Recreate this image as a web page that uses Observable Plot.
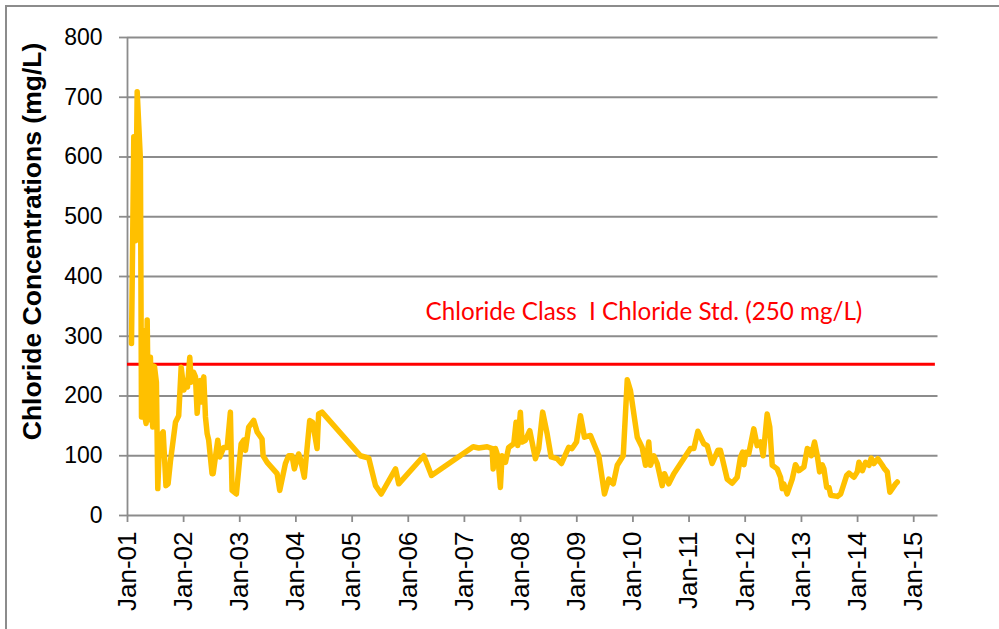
<!DOCTYPE html>
<html>
<head>
<meta charset="utf-8">
<script src="https://cdn.jsdelivr.net/npm/d3@7"></script>
<script src="https://cdn.jsdelivr.net/npm/@observablehq/plot@0.6"></script>
<style>
  body { margin: 0; background: #fff; }
  #wrap { position: relative; width: 999px; height: 629px; overflow: hidden; background: #fff; }
  #frame { position: absolute; left: 5px; top: 5px; width: 1100px; height: 700px;
           border-top: 2px solid #8c8c8c; border-left: 2px solid #8c8c8c; pointer-events: none; }
  svg text { white-space: pre; }
</style>
</head>
<body>
<div id="wrap"><div id="frame"></div></div>
<script>
const sampleDates = [
  "2001-01-27","2001-02-11","2001-02-22","2001-03-05","2001-03-26","2001-04-02","2001-04-08","2001-04-18",
  "2001-05-02","2001-05-09","2001-05-17","2001-05-30","2001-06-09","2001-06-14","2001-06-25","2001-07-08",
  "2001-07-17","2001-07-28","2001-08-07","2001-08-21","2001-09-08","2001-09-22","2001-10-07","2001-11-09",
  "2001-11-30","2001-12-16",
  "2002-01-03","2002-01-13","2002-01-26","2002-02-10","2002-02-19","2002-03-06","2002-03-19","2002-03-30",
  "2002-04-11","2002-04-20","2002-04-30","2002-05-12","2002-05-23","2002-06-03","2002-06-13","2002-07-05",
  "2002-07-12","2002-08-11","2002-08-24","2002-09-19","2002-10-11","2002-11-01","2002-11-12","2002-12-10",
  "2003-01-10","2003-01-27","2003-02-07","2003-02-28","2003-04-02","2003-04-24","2003-05-26","2003-06-02",
  "2003-06-28","2003-09-01","2003-09-18","2003-10-25","2003-11-15","2003-12-07","2003-12-22",
  "2004-01-19","2004-01-30","2004-02-25","2004-03-31","2004-04-19","2004-05-18","2004-05-28","2004-06-19",
  "2005-02-24","2005-04-19","2005-06-02","2005-07-09","2005-10-10","2005-10-31",
  "2006-04-12","2006-06-01",
  "2007-02-27","2007-04-04","2007-05-29","2007-06-30","2007-07-07","2007-07-22","2007-08-06","2007-08-23",
  "2007-09-03","2007-09-25","2007-10-16","2007-11-18","2007-12-03","2007-12-14","2007-12-31",
  "2008-01-11","2008-02-02","2008-03-01","2008-04-07","2008-04-28","2008-05-24","2008-06-22","2008-07-18",
  "2008-08-26","2008-09-23","2008-11-09","2008-12-01","2008-12-30",
  "2009-01-25","2009-02-20","2009-03-31","2009-05-24","2009-06-30","2009-07-28","2009-08-26","2009-09-21",
  "2009-10-30","2009-11-25","2009-12-16",
  "2010-01-29","2010-03-02","2010-03-24","2010-04-14","2010-04-25","2010-05-17","2010-06-08","2010-07-10",
  "2010-07-25","2010-08-22","2010-09-24",
  "2011-01-10","2011-02-01","2011-02-27","2011-04-07","2011-04-29","2011-05-31","2011-07-07","2011-07-24",
  "2011-09-06","2011-10-08","2011-11-10","2011-12-01","2011-12-15","2011-12-24",
  "2012-01-06","2012-01-24","2012-02-26","2012-03-19","2012-04-10","2012-04-27","2012-05-23","2012-06-09",
  "2012-06-25","2012-07-27","2012-08-18","2012-08-29","2012-09-08","2012-09-30","2012-11-02","2012-11-23",
  "2012-12-15",
  "2013-01-17","2013-02-08","2013-02-25","2013-03-06","2013-03-27","2013-04-14","2013-04-29","2013-05-16",
  "2013-05-27","2013-06-14","2013-06-29","2013-07-10","2013-08-22","2013-09-13","2013-10-22","2013-11-06",
  "2013-12-08","2013-12-30",
  "2014-01-10","2014-02-01","2014-02-22","2014-03-16","2014-03-31","2014-04-17","2014-05-13","2014-06-11",
  "2014-06-26","2014-07-13","2014-07-30","2014-09-05","2014-09-16"
];
const chlorideMgL = [
  288,634,460,709,595,165,310,175,
  154,327,160,265,170,148,250,223,
  45,120,135,140,50,53,90,156,
  167,248,
  210,226,215,265,223,240,232,171,
  215,226,190,232,165,137,126,70,
  70,126,98,114,114,173,42,36,
  120,126,109,148,159,140,128,100,
  89,70,42,87,100,100,78,
  103,95,64,159,156,112,170,173,
  100,96,50,36,78,53,
  100,67,
  115,113,115,112,78,112,100,47,
  100,89,114,120,156,117,173,
  123,126,142,95,112,173,137,98,
  95,87,114,112,123,
  167,131,134,100,36,61,53,84,
  100,227,209,
  131,114,84,123,84,100,87,50,
  70,53,70,
  112,112,141,120,117,87,109,109,
  61,54,64,97,106,85,
  106,103,145,117,123,100,170,148,
  84,78,64,45,53,36,61,85,
  75,
  81,112,109,100,123,100,73,85,
  78,47,47,34,32,36,67,71,
  64,73,
  89,75,89,84,96,87,95,84,
  78,73,39,53,56
];
const yTicks = [0, 100, 200, 300, 400, 500, 600, 700, 800];
const xTickDates = ["2001-01-01","2002-01-01","2003-01-01","2004-01-01","2005-01-01","2006-01-01","2007-01-01",
  "2008-01-01","2009-01-01","2010-01-01","2011-01-01","2012-01-01","2013-01-01","2014-01-01","2015-01-01"];
const xTickLabels = ["Jan-01","Jan-02","Jan-03","Jan-04","Jan-05","Jan-06","Jan-07",
  "Jan-08","Jan-09","Jan-10","Jan-11","Jan-12","Jan-13","Jan-14","Jan-15"];
const xDomain = ["2001-01-01", "2015-06-08"];
const standardValue = 253;
const standardSpan = ["2001-01-01", "2015-05-22"];
const standardLabel = "Chloride Class  I Chloride Std. (250 mg/L)";
const standardLabelAt = { date: "2006-04-23", value: 328 };
const yTitle = "Chloride Concentrations (mg/L)";

const rows = sampleDates.map((d, i) => ({ date: new Date(d), value: chlorideMgL[i] }));
const tickDates = xTickDates.map(d => new Date(d));
const labelMap = new Map(tickDates.map((d, i) => [+d, xTickLabels[i]]));

// fit red label width to the reference
const ctx = document.createElement("canvas").getContext("2d");
ctx.font = "24px Lato";
const w24 = ctx.measureText(standardLabel).width;
const redSize = 24 * 437 / w24;

const grid = "#8c8c8c";
const chart = Plot.plot({
  width: 999,
  height: 629,
  marginLeft: 127,
  marginRight: 61.5,
  marginTop: 37,
  marginBottom: 114,
  style: { fontFamily: "'Liberation Sans', Arial, sans-serif", fontSize: "23px", background: "white", color: "black" },
  x: { type: "utc", domain: xDomain.map(d => new Date(d)) },
  y: { domain: [0, 800] },
  marks: [
    Plot.gridY(yTicks, { stroke: grid, strokeOpacity: 1, strokeWidth: 1.8 }),
    Plot.ruleX([new Date(xDomain[0])], { stroke: grid, strokeWidth: 1.8 }),
    Plot.axisY(yTicks, { tickSize: 8, tickPadding: 17, fontSize: 23, stroke: grid, strokeWidth: 1.8, label: null }),
    Plot.axisX(tickDates, { tickSize: 7, tickPadding: 9, tickRotate: -90, fontSize: 26, stroke: grid, strokeWidth: 1.8,
      tickFormat: d => labelMap.get(+d), label: null }),
    Plot.ruleY([{ v: standardValue, a: new Date(standardSpan[0]), b: new Date(standardSpan[1]) }],
      { y: "v", x1: "a", x2: "b", stroke: "#FF0000", strokeWidth: 3 }),
    Plot.line(rows, { x: "date", y: "value", stroke: "#FFC000", strokeWidth: 5.5,
      strokeLinejoin: "round", strokeLinecap: "round" }),
    Plot.text([{ date: new Date(standardLabelAt.date), value: standardLabelAt.value, label: standardLabel }],
      { x: "date", y: "value", text: "label", textAnchor: "start", lineAnchor: "bottom",
        fill: "#FF0000", fontFamily: "Lato", fontSize: redSize }),
    Plot.text([yTitle], { text: d => d, frameAnchor: "left", textAnchor: "middle", lineAnchor: "middle",
      rotate: -90, dx: -94.5, dy: -35, fontWeight: "bold", fontSize: 26.5, fill: "black" })
  ]
});
document.getElementById("wrap").prepend(chart);
</script>
</body>
</html>
